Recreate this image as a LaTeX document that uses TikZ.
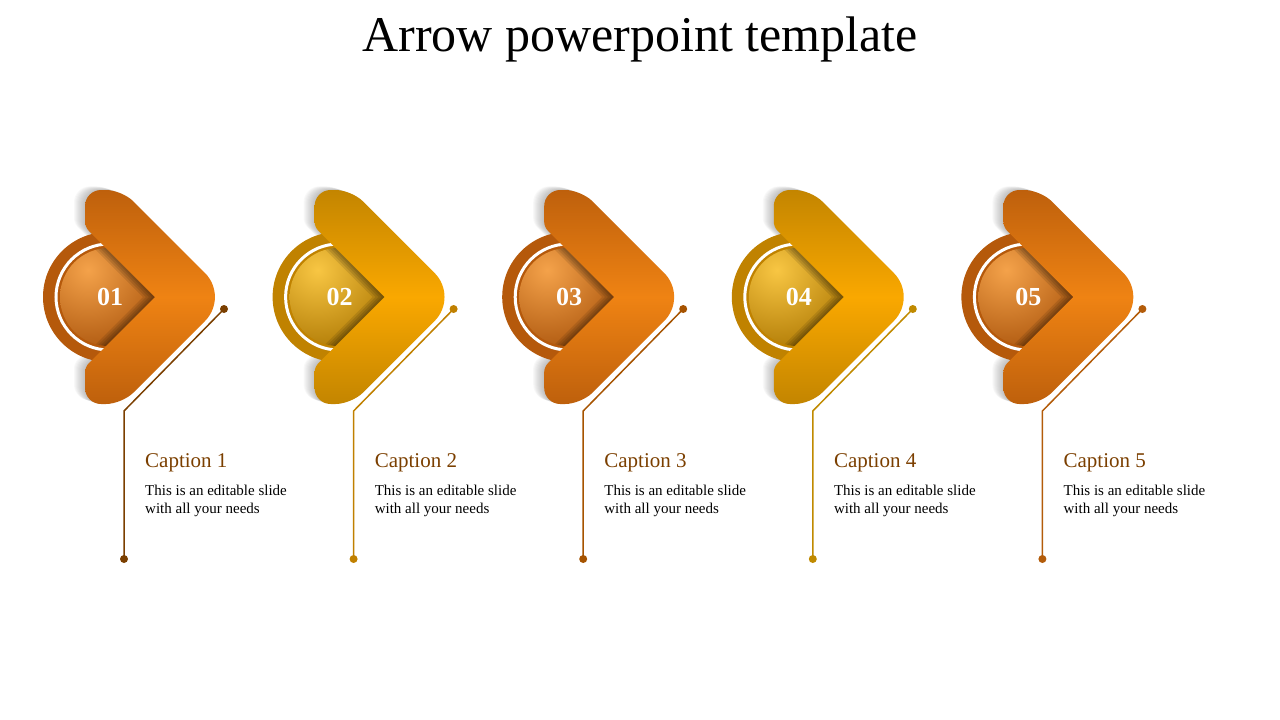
\documentclass[tikz,border=0pt]{standalone}
\usepackage{fontspec}
\setmainfont{Liberation Serif}
\usetikzlibrary{calc}
\definecolor{capbrown}{HTML}{7B3F00}
\definecolor{orDark}{HTML}{BE600C}
\definecolor{orLight}{HTML}{EF8313}
\definecolor{orRing}{HTML}{B5590B}
\definecolor{orBallL}{HTML}{F4A24A}
\definecolor{orBallD}{HTML}{A8520A}
\definecolor{goDark}{HTML}{C38500}
\definecolor{goLight}{HTML}{FAA800}
\definecolor{goRing}{HTML}{C08200}
\definecolor{goBallL}{HTML}{F8C643}
\definecolor{goBallD}{HTML}{AA7400}
\definecolor{lineA}{HTML}{7B3F00}
\definecolor{lineB}{HTML}{C08000}
\definecolor{lineC}{HTML}{A65300}
\definecolor{lineD}{HTML}{C08A00}
\definecolor{lineE}{HTML}{B35C0A}
\tikzset{>=latex,
  title/.style={anchor=base, font=\fontsize{50}{54}\selectfont},
  capt/.style={anchor=base west, inner sep=0pt, text=capbrown, font=\fontsize{21}{24}\selectfont},
  body/.style={anchor=north west, inner sep=0pt, align=left, font=\fontsize{15}{18}\selectfont},
  num/.style={text=white, font=\fontsize{26}{28}\selectfont\bfseries},
  conn/.style={line width=1.5pt}
}
% chevron outline of one item
\newcommand{\chevpath}{(155,297) [rounded corners=5pt] -- (85,227) [rounded corners=16pt] -- (85,190) -- (122,190) [rounded corners=34pt] -- (229,297) [rounded corners=16pt] -- (122,404) -- (85,404) [rounded corners=5pt] -- (85,367) [sharp corners] -- cycle}
% #1 number, #2 chevron dark, #3 chevron light, #4 ring, #5 ball light, #6 ball dark, #7 line
\newcommand{\arrowitem}[7]{%
\begin{scope}[xshift={229.6*(#1-1)}]
\foreach \s in {1,...,11}
  \fill[black!60, opacity=0.045, shift={(-\s,-\s/3)}] \chevpath;
\fill[#4] (108,297) circle (65);
\draw[white, line width=3pt] (109,297) circle (53);
\begin{scope}
\clip (109,297) circle (49);
\shade[inner color=#5, outer color=#6] (88,270) circle (90);
\foreach \s in {3,6,9,12}
  \fill[black, opacity=0.1, xshift=-\s] \chevpath;
\end{scope}
\shade[top color=#2, bottom color=#2, middle color=#3] \chevpath;
\node[num] (num#1) at (110,297) {0#1};
\coordinate (top#1) at (224,309);
\coordinate (bend#1) at (124,411);
\coordinate (end#1) at (124,559);
\draw[conn, #7] (top#1) -- (bend#1) -- (end#1);
\fill[#7] (top#1) circle (4);
\fill[#7] (end#1) circle (4);
\node[capt] (cap#1) at (145,467) {Caption #1};
\node[body] (txt#1) at (145,485) {This is an editable slide\\with all your needs};
\end{scope}}

\begin{document}
\begin{tikzpicture}[x=1pt, y=-1pt]
\useasboundingbox (0,0) rectangle (1280,720);
\node[title] (title) at (640,51) {Arrow powerpoint template};
\arrowitem{1}{orDark}{orLight}{orRing}{orBallL}{orBallD}{lineA}
\arrowitem{2}{goDark}{goLight}{goRing}{goBallL}{goBallD}{lineB}
\arrowitem{3}{orDark}{orLight}{orRing}{orBallL}{orBallD}{lineC}
\arrowitem{4}{goDark}{goLight}{goRing}{goBallL}{goBallD}{lineD}
\arrowitem{5}{orDark}{orLight}{orRing}{orBallL}{orBallD}{lineE}
\end{tikzpicture}
\end{document}
